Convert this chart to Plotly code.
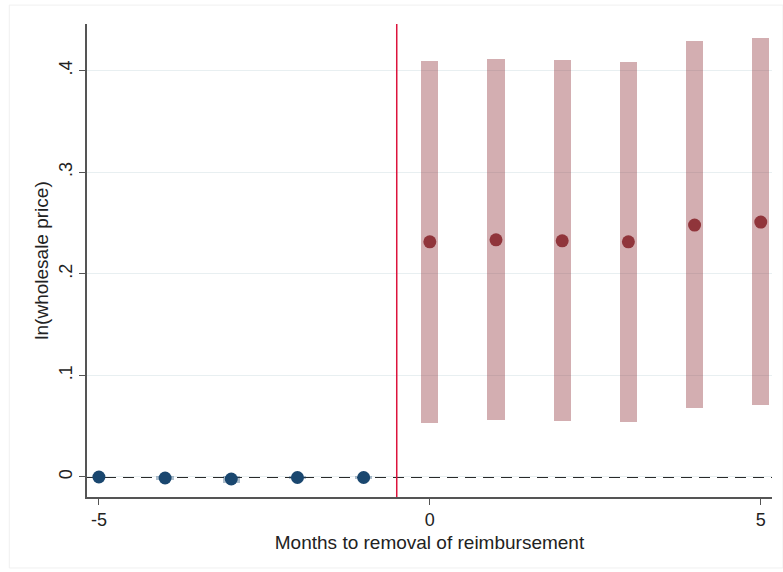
import plotly.graph_objects as go

# Event-study estimates: months relative to removal of reimbursement
months_pre = [-5, -4, -3, -2, -1]
coef_pre = [0.0, -0.001, -0.002, -0.0005, -0.0005]
ci_lo_pre = [0.0, -0.0025, -0.0055, -0.002, -0.002]
ci_hi_pre = [0.0, 0.0005, 0.001, 0.001, 0.001]

months_post = [0, 1, 2, 3, 4, 5]
coef_post = [0.2315, 0.2335, 0.2325, 0.2315, 0.248, 0.251]
ci_lo_post = [0.053, 0.056, 0.055, 0.054, 0.068, 0.071]
ci_hi_post = [0.410, 0.412, 0.411, 0.409, 0.4295, 0.4325]

y_ticks = [0, 0.1, 0.2, 0.3, 0.4]
y_tick_text = ["0", ".1", ".2", ".3", ".4"]
x_ticks = [-5, 0, 5]
x_tick_text = ["-5", "0", "5"]

NAVY = "#1a476f"
MAROON = "#90353b"
FONT = "Liberation Sans, Arial, sans-serif"
BAR_W = 0.26

fig = go.Figure()

# confidence intervals drawn as translucent bars
fig.add_trace(go.Bar(
    x=months_pre,
    y=[h - l for h, l in zip(ci_hi_pre, ci_lo_pre)],
    base=ci_lo_pre, width=BAR_W,
    marker=dict(color="rgba(26,71,111,0.35)", line=dict(width=0)),
    hoverinfo="skip", showlegend=False,
))
fig.add_trace(go.Bar(
    x=months_post,
    y=[h - l for h, l in zip(ci_hi_post, ci_lo_post)],
    base=ci_lo_post, width=BAR_W,
    marker=dict(color="rgba(144,53,59,0.4)", line=dict(width=0)),
    hoverinfo="skip", showlegend=False,
))

# point estimates
fig.add_trace(go.Scatter(
    x=months_pre, y=coef_pre, mode="markers",
    marker=dict(color=NAVY, size=13, line=dict(width=0)),
    showlegend=False,
))
fig.add_trace(go.Scatter(
    x=months_post, y=coef_post, mode="markers",
    marker=dict(color=MAROON, size=13, line=dict(width=0)),
    showlegend=False,
))

# zero reference line and treatment onset
fig.add_shape(type="line", xref="paper", yref="y", x0=0, x1=1, y0=0, y1=0,
              line=dict(color="#2a2a2a", width=2, dash="11px,7px"), layer="below")
fig.add_shape(type="line", xref="x", yref="paper", x0=-0.5, x1=-0.5, y0=0, y1=1,
              line=dict(color="#dc143c", width=1.5))

# faint outer frame
fig.add_shape(type="rect", xref="paper", yref="paper",
              x0=-0.1135, x1=1.016, y0=-0.15, y1=1.04,
              line=dict(color="#f0f0f0", width=1), layer="below")

fig.update_layout(
    width=783, height=572,
    margin=dict(l=87, r=11, t=24, b=75),
    paper_bgcolor="white", plot_bgcolor="white",
    barmode="overlay", bargap=0,
    font=dict(family=FONT, size=18, color="#222222"),
    xaxis=dict(
        range=[-5.18, 5.17], tickvals=x_ticks, ticktext=x_tick_text,
        ticks="outside", ticklen=6,
        tickcolor="#555555", showline=True, linecolor="#555555", linewidth=1.5,
        showgrid=False, zeroline=False,
        title=dict(text="Months to removal of reimbursement", font=dict(size=19), standoff=6),
        tickfont=dict(size=18),
    ),
    yaxis=dict(
        range=[-0.0197, 0.446], tickvals=y_ticks, ticktext=y_tick_text,
        ticks="outside", ticklen=6, tickcolor="#555555", tickangle=-90,
        showline=True, linecolor="#555555", linewidth=1.5,
        showgrid=True, gridcolor="#e8eff1", gridwidth=1, zeroline=False,
        title=dict(text="ln(wholesale price)", font=dict(size=19), standoff=2),
        tickfont=dict(size=18),
    ),
)

fig.write_html("out.html")
